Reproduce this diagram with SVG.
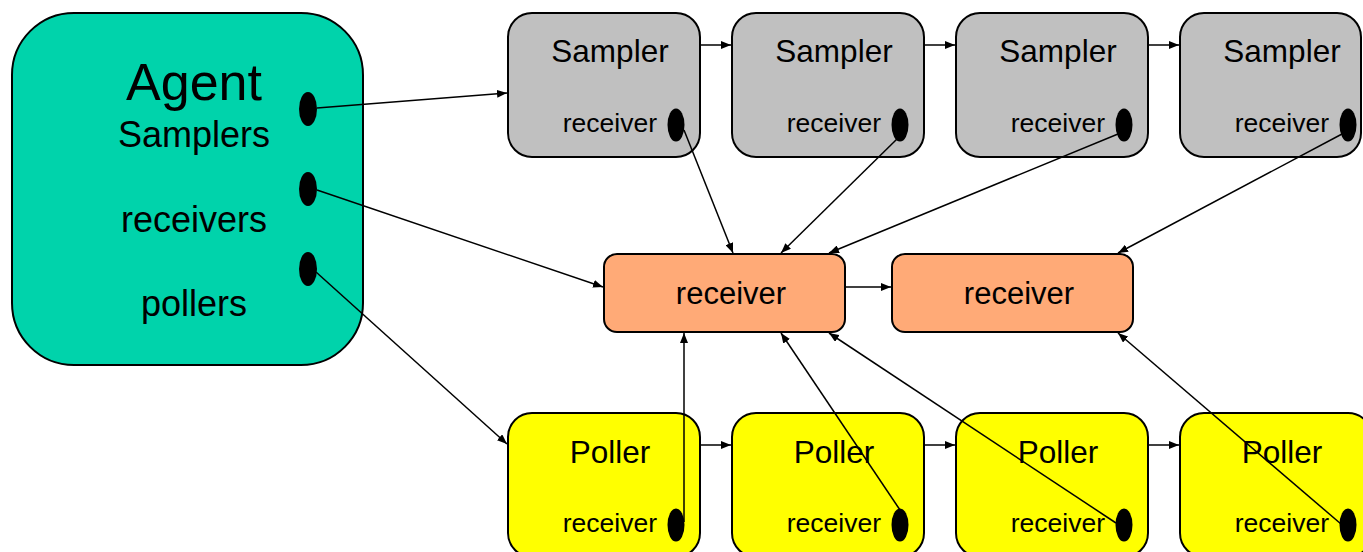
<svg xmlns="http://www.w3.org/2000/svg" width="1363" height="552" viewBox="0 0 1363 552">
  <defs>
    <marker id="arrow" viewBox="0 0 10 8" refX="10" refY="4" markerWidth="10" markerHeight="8" markerUnits="userSpaceOnUse" orient="auto">
      <path d="M0,0 L10,4 L0,8 Z" fill="#000"/>
    </marker>
    <style>
      text { font-family: "Liberation Sans", Arial, sans-serif; fill: #000; }
      .box { stroke: #000; stroke-width: 2; }
      .agent { fill: #00D3AB; }
      .sampler { fill: #C0C0C0; }
      .poller { fill: #FFFF00; }
      .recv { fill: #FFAA77; }
      .dot { fill: #000; }
      .title { font-size: 31.5px; text-anchor: middle; }
      .port { font-size: 26.5px; text-anchor: end; }
      .conn { stroke: #000; stroke-width: 1.5; fill: none; marker-end: url(#arrow); }
    </style>
  </defs>
  <rect width="1363" height="552" fill="#fff"/>

  <!-- Agent -->
  <g id="agent">
    <rect class="box agent" x="12" y="13" width="351" height="352" rx="62" ry="62"/>
    <text x="194" y="100" font-size="52" text-anchor="middle">Agent</text>
    <text x="194" y="147" font-size="36" text-anchor="middle">Samplers</text>
    <text x="194" y="232" font-size="36" text-anchor="middle">receivers</text>
    <text x="194" y="316" font-size="36" text-anchor="middle">pollers</text>
    <ellipse class="dot" cx="308" cy="109" rx="9" ry="17"/>
    <ellipse class="dot" cx="308" cy="189" rx="9" ry="17"/>
    <ellipse class="dot" cx="308" cy="269" rx="9" ry="17"/>
  </g>

  <!-- Samplers -->
  <g id="sampler1">
    <rect class="box sampler" x="508" y="13" width="192" height="144" rx="24" ry="24"/>
    <text class="title" x="610" y="62">Sampler</text>
    <text class="port" x="657" y="132">receiver</text>
    <ellipse class="dot" cx="676" cy="125" rx="8.5" ry="16.5"/>
  </g>
  <g id="sampler2">
    <rect class="box sampler" x="732" y="13" width="192" height="144" rx="24" ry="24"/>
    <text class="title" x="834" y="62">Sampler</text>
    <text class="port" x="881" y="132">receiver</text>
    <ellipse class="dot" cx="900" cy="125" rx="8.5" ry="16.5"/>
  </g>
  <g id="sampler3">
    <rect class="box sampler" x="956" y="13" width="192" height="144" rx="24" ry="24"/>
    <text class="title" x="1058" y="62">Sampler</text>
    <text class="port" x="1105" y="132">receiver</text>
    <ellipse class="dot" cx="1124" cy="125" rx="8.5" ry="16.5"/>
  </g>
  <g id="sampler4">
    <rect class="box sampler" x="1180" y="13" width="181" height="144" rx="24" ry="24"/>
    <text class="title" x="1282" y="62">Sampler</text>
    <text class="port" x="1329" y="132">receiver</text>
    <ellipse class="dot" cx="1348" cy="125" rx="8.5" ry="16.5"/>
  </g>

  <!-- Receivers -->
  <g id="receiver1">
    <rect class="box recv" x="604" y="254" width="241" height="78" rx="13" ry="13"/>
    <text x="731" y="304" font-size="31" text-anchor="middle">receiver</text>
  </g>
  <g id="receiver2">
    <rect class="box recv" x="892" y="254" width="241" height="78" rx="13" ry="13"/>
    <text x="1019" y="304" font-size="31" text-anchor="middle">receiver</text>
  </g>

  <!-- Pollers -->
  <g id="poller1">
    <rect class="box poller" x="508" y="413" width="192" height="144" rx="24" ry="24"/>
    <text class="title" x="610" y="463">Poller</text>
    <text class="port" x="657" y="532">receiver</text>
    <ellipse class="dot" cx="676" cy="525" rx="8.5" ry="16.5"/>
  </g>
  <g id="poller2">
    <rect class="box poller" x="732" y="413" width="192" height="144" rx="24" ry="24"/>
    <text class="title" x="834" y="463">Poller</text>
    <text class="port" x="881" y="532">receiver</text>
    <ellipse class="dot" cx="900" cy="525" rx="8.5" ry="16.5"/>
  </g>
  <g id="poller3">
    <rect class="box poller" x="956" y="413" width="192" height="144" rx="24" ry="24"/>
    <text class="title" x="1058" y="463">Poller</text>
    <text class="port" x="1105" y="532">receiver</text>
    <ellipse class="dot" cx="1124" cy="525" rx="8.5" ry="16.5"/>
  </g>
  <g id="poller4">
    <rect class="box poller" x="1180" y="413" width="192" height="144" rx="24" ry="24"/>
    <text class="title" x="1282" y="463">Poller</text>
    <text class="port" x="1329" y="532">receiver</text>
    <ellipse class="dot" cx="1348" cy="525" rx="8.5" ry="16.5"/>
  </g>

  <!-- Connectors -->
  <g id="connectors">
    <!-- agent ports -->
    <line class="conn" x1="317" y1="108" x2="507" y2="93"/>
    <line class="conn" x1="317" y1="190" x2="603" y2="287"/>
    <line class="conn" x1="316" y1="272" x2="507" y2="444"/>
    <!-- sampler chain -->
    <line class="conn" x1="700" y1="45" x2="731" y2="45"/>
    <line class="conn" x1="924" y1="45" x2="955" y2="45"/>
    <line class="conn" x1="1148" y1="45" x2="1179" y2="45"/>
    <!-- poller chain -->
    <line class="conn" x1="700" y1="445" x2="731" y2="445"/>
    <line class="conn" x1="924" y1="445" x2="955" y2="445"/>
    <line class="conn" x1="1148" y1="445" x2="1179" y2="445"/>
    <!-- receiver chain -->
    <line class="conn" x1="845" y1="287" x2="891" y2="287"/>
    <!-- sampler receivers -->
    <line class="conn" x1="684" y1="130" x2="733" y2="253"/>
    <line class="conn" x1="897" y1="139" x2="781" y2="253"/>
    <line class="conn" x1="1118" y1="134" x2="829" y2="253"/>
    <line class="conn" x1="1342" y1="134" x2="1118" y2="253"/>
    <!-- poller receivers -->
    <line class="conn" x1="684" y1="522" x2="684" y2="333"/>
    <line class="conn" x1="900" y1="510" x2="781" y2="333"/>
    <line class="conn" x1="1116" y1="523" x2="829" y2="333"/>
    <line class="conn" x1="1341" y1="524" x2="1118" y2="333"/>
  </g>
</svg>
